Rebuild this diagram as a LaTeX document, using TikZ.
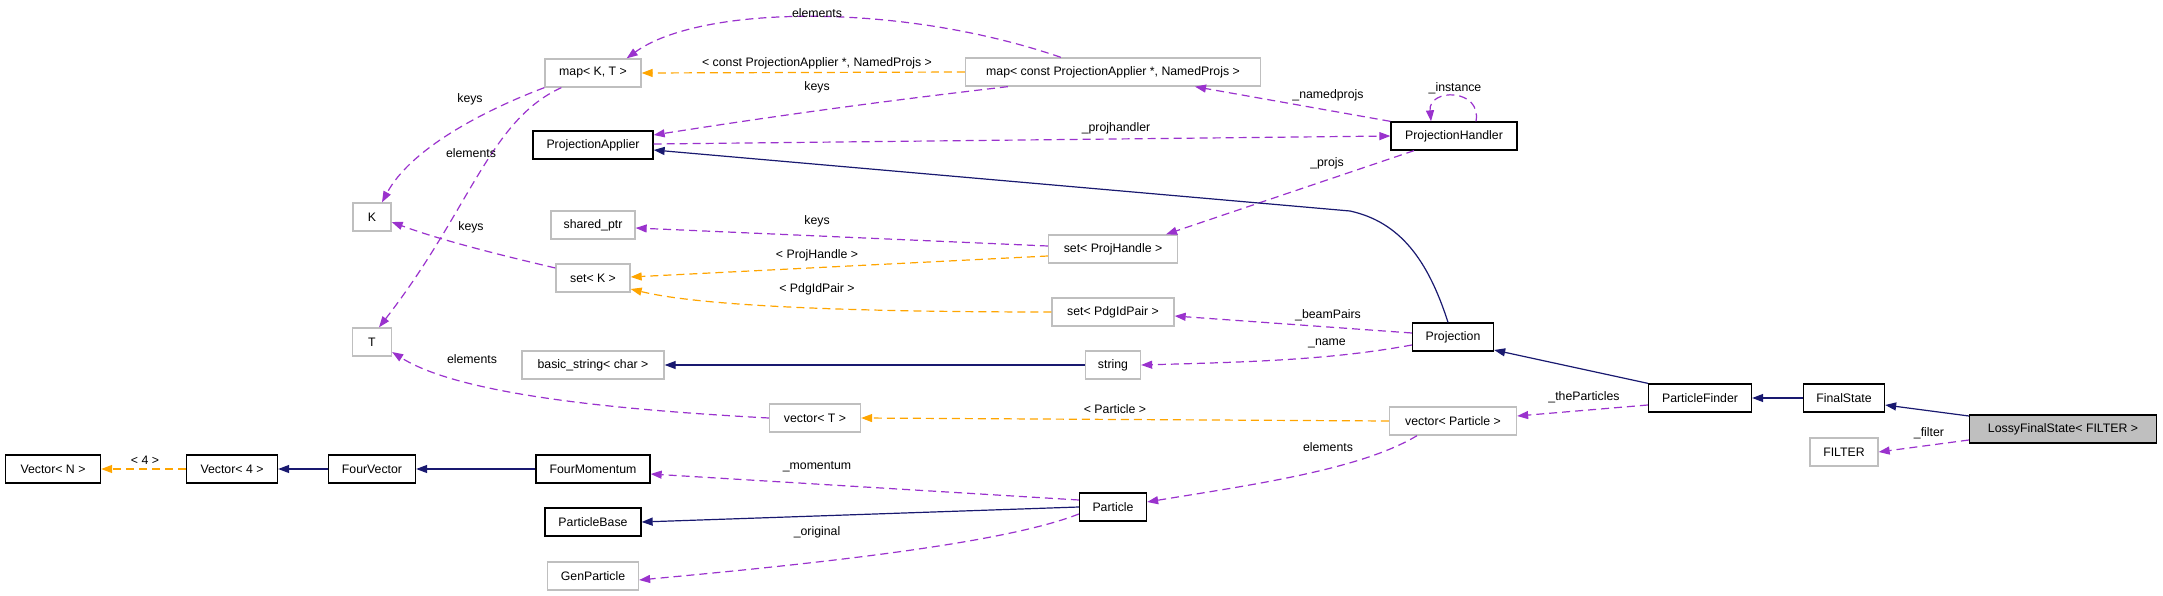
\documentclass[tikz,border=0pt]{standalone}
\usepackage{fontspec}
\setmainfont{Liberation Sans}
\usetikzlibrary{arrows.meta}
\definecolor{pur}{HTML}{9A32CD}
\definecolor{ora}{HTML}{FFA500}
\definecolor{mid}{HTML}{191970}
\begin{document}
\begin{tikzpicture}[x=1pt,y=-1pt,
  every node/.style={font=\fontsize{12.3}{14}\selectfont},
  box/.style={draw=black,line width=1.3pt,minimum height=28pt,inner sep=0pt,fill=white},
  gbox/.style={draw=black!25,line width=1.3pt,minimum height=28pt,inner sep=0pt,fill=white},
  lbl/.style={inner sep=1pt},
  use/.style={draw=pur,line width=1.2pt,dash pattern=on 8pt off 5pt,-{Triangle[length=11pt,width=8pt]}},
  tpl/.style={draw=ora,line width=1.2pt,dash pattern=on 8pt off 5pt,-{Triangle[length=11pt,width=8pt]}},
  inh/.style={draw=mid,line width=1.2pt,-{Triangle[length=11pt,width=8pt]}}]
\useasboundingbox (0,0) rectangle (2163,596);
% nodes
\node[gbox,minimum width=96pt] (mapKT) at (593,73) {map< K, T >};
\node[gbox,minimum width=295pt] (mapC) at (1113,72) {map< const ProjectionApplier *, NamedProjs >};
\node[box,minimum width=120pt] (PA) at (593,145) {ProjectionApplier};
\node[box,minimum width=126pt] (PH) at (1454,136) {ProjectionHandler};
\node[gbox,minimum width=38pt] (K) at (372,217) {K};
\node[gbox,minimum width=84pt] (sptr) at (593,225) {shared\_ptr};
\node[gbox,minimum width=129pt] (setPH) at (1113,249) {set< ProjHandle >};
\node[gbox,minimum width=74pt] (setK) at (593,278) {set< K >};
\node[gbox,minimum width=122pt] (setPdg) at (1113,312) {set< PdgIdPair >};
\node[gbox,minimum width=39pt] (T) at (372,342) {T};
\node[box,minimum width=81pt] (Proj) at (1453,337) {Projection};
\node[gbox,minimum width=142pt] (bstr) at (593,365) {basic\_string< char >};
\node[gbox,minimum width=55pt] (str) at (1113,365) {string};
\node[box,minimum width=103pt] (PF) at (1700,398) {ParticleFinder};
\node[box,minimum width=81pt] (FS) at (1844,398) {FinalState};
\node[gbox,minimum width=91pt] (vecT) at (815,418) {vector< T >};
\node[gbox,minimum width=127pt] (vecP) at (1453,421) {vector< Particle >};
\node[box,minimum width=187pt,fill=black!25] (LFS) at (2063,429) {LossyFinalState< FILTER >};
\node[gbox,minimum width=68pt] (FILTER) at (1844,452) {FILTER};
\node[box,minimum width=95pt] (VN) at (53,469) {Vector< N >};
\node[box,minimum width=91pt] (V4) at (232,469) {Vector< 4 >};
\node[box,minimum width=87pt] (FV) at (372,469) {FourVector};
\node[box,minimum width=114pt] (FM) at (593,469) {FourMomentum};
\node[box,minimum width=67pt] (Part) at (1113,507) {Particle};
\node[box,minimum width=96pt] (PB) at (593,522) {ParticleBase};
\node[gbox,minimum width=91pt] (GP) at (593,576) {GenParticle};
% edges
\draw[use] ([xshift=96pt]mapC.north west) .. controls (900,2) and (700,5) .. ([xshift=-15pt]mapKT.north east);
\draw[tpl] (mapC.west) -- (mapKT.east);
\draw[use] ([xshift=43pt]mapC.south west) .. controls (850,105) and (750,120) .. ([yshift=10pt]PA.east);
\draw[use] ([yshift=1pt]PA.east) -- (PH.west);
\draw[use] (PH.north west) -- ([xshift=82pt]mapC.south);
\draw[use] ([xshift=22pt]PH.north) .. controls (1482,88) and (1428,88) .. ([xshift=-23pt]PH.north);
\draw[use] ([xshift=-40pt]PH.south) -- ([xshift=53pt]setPH.north);
\draw[inh] ([xshift=-5pt]Proj.north) .. controls (1428,260) and (1400,222) .. (1350,211) -- ([yshift=-5pt]PA.east);
\draw[use] ([yshift=4pt]Proj.west) -- ([yshift=-4pt]setPdg.east);
\draw[use] ([yshift=-8pt]Proj.west) .. controls (1330,360) and (1250,362) .. (str.east);
\draw[inh] (str.west) -- (bstr.east);
\draw[use] ([yshift=3pt]setPH.west) -- ([yshift=-3pt]sptr.east);
\draw[tpl] ([yshift=-7pt]setPH.west) -- ([yshift=1pt]setK.east);
\draw[tpl] (setPdg.west) .. controls (850,312) and (700,306) .. ([yshift=-11pt]setK.east);
\draw[use] ([yshift=10pt]setK.west) .. controls (500,255) and (440,240) .. ([yshift=-5pt]K.east);
\draw[use] (mapKT.south west) .. controls (480,112) and (410,150) .. ([xshift=10pt]K.north);
\draw[use] ([xshift=17pt]mapKT.south west) .. controls (490,120) and (470,210) .. ([xshift=7pt]T.north);
\draw[use] (vecT.west) .. controls (620,410) and (460,395) .. ([yshift=-10pt]T.east);
\draw[tpl] (vecP.west) -- (vecT.east);
\draw[use] ([yshift=-7pt]PF.west) -- ([yshift=5pt]vecP.east);
\draw[use] ([xshift=-36pt]vecP.south) .. controls (1360,470) and (1250,485) .. ([yshift=5pt]Part.east);
\draw[use] ([yshift=7pt]Part.west) -- ([yshift=-5pt]FM.east);
\draw[inh] (Part.west) -- (PB.east);
\draw[use] ([yshift=-7pt]Part.west) .. controls (1000,545) and (800,565) .. ([yshift=-4pt]GP.east);
\draw[inh] (FM.west) -- (FV.east);
\draw[inh] (FV.west) -- (V4.east);
\draw[tpl] (V4.west) -- (VN.east);
\draw[inh] (PF.north west) -- ([yshift=-13pt]Proj.east);
\draw[inh] (FS.west) -- (PF.east);
\draw[inh] ([yshift=13pt]LFS.west) -- ([yshift=-7pt]FS.east);
\draw[use] ([yshift=-11pt]LFS.west) -- (FILTER.east);
% labels
\node[lbl] (l1) at (817,13) {elements};
\node[lbl] (l2) at (817,63) {< const ProjectionApplier *, NamedProjs >};
\node[lbl] (l3) at (817,87) {keys};
\node[lbl] (l4) at (1116,128) {\_projhandler};
\node[lbl] (l5) at (1328,95) {\_namedprojs};
\node[lbl] (l6) at (1455,88) {\_instance};
\node[lbl] (l7) at (1327,163) {\_projs};
\node[lbl] (l8) at (470,99) {keys};
\node[lbl] (l9) at (471,153) {elements};
\node[lbl] (l10) at (817,221) {keys};
\node[lbl] (l11) at (817,255) {< ProjHandle >};
\node[lbl] (l12) at (471,227) {keys};
\node[lbl] (l13) at (817,289) {< PdgIdPair >};
\node[lbl] (l14) at (1328,315) {\_beamPairs};
\node[lbl] (l15) at (1327,343) {\_name};
\node[lbl] (l16) at (472,359) {elements};
\node[lbl] (l17) at (1115,409) {< Particle >};
\node[lbl] (l18) at (1584,397) {\_theParticles};
\node[lbl] (l19) at (1929,433) {\_filter};
\node[lbl] (l20) at (1328,447) {elements};
\node[lbl] (l21) at (145,460) {< 4 >};
\node[lbl] (l22) at (817,467) {\_momentum};
\node[lbl] (l23) at (817,532) {\_original};
\end{tikzpicture}
\end{document}
